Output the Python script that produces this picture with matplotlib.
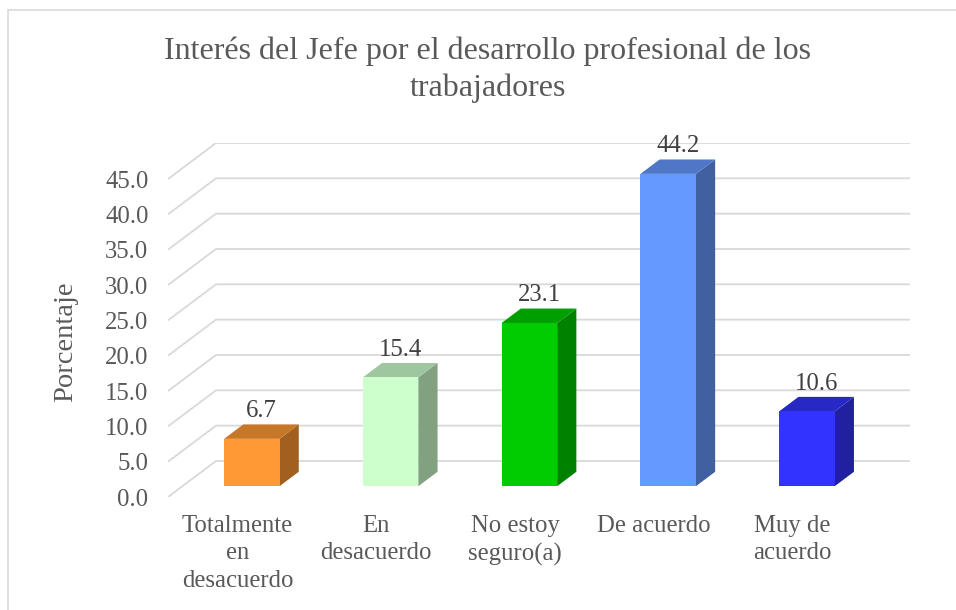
import numpy as np
import matplotlib
matplotlib.use('Agg')
import matplotlib.pyplot as plt
import matplotlib.colors as mcolors
from matplotlib.patches import Polygon, Rectangle

plt.rcParams['font.family'] = ['Liberation Serif', 'DejaVu Serif']

# data
categories = ['Totalmente\nen\ndesacuerdo', 'En\ndesacuerdo', 'No estoy\nseguro(a)',
              'De acuerdo', 'Muy de\nacuerdo']
values = [6.7, 15.4, 23.1, 44.2, 10.6]
colors = ['#FF9933', '#CCFFCC', '#00CC00', '#6699FF', '#3333FF']
yticks = np.arange(0, 50, 5)

# fake 3D: back wall shift (category units, value units), bar size
DX, DY = 0.346, 5.1
W = 0.4
D0, D1 = 0.3, 0.7
TEXT = '#595959'
GRID = '#D9D9D9'
FS = 17.8


def proj(x, y, d):
    return (x + d * DX, y + d * DY)


def shade(c, f):
    r, g, b = mcolors.to_rgb(c)
    return (r * f, g * f, b * f)


fig = plt.figure(figsize=(9.56, 6.1), dpi=100)
ax = fig.add_axes([168 / 956, 113 / 610, 742 / 956, 354 / 610])
ax.set_xlim(-0.5, len(values) - 0.5 + DX)
ax.set_ylim(0, yticks[-1] + DY)
for s in ax.spines.values():
    s.set_visible(False)

# walls gridlines
for v in yticks:
    ax.plot([-0.5, -0.5 + DX, len(values) - 0.5 + DX], [v, v + DY, v + DY],
            color=GRID, lw=1.3, zorder=1, solid_capstyle='butt')

# bars
for i, (v, c) in enumerate(zip(values, colors)):
    xl, xr = i - W / 2, i + W / 2
    front = [proj(xl, 0, D0), proj(xr, 0, D0), proj(xr, v, D0), proj(xl, v, D0)]
    side = [proj(xr, 0, D0), proj(xr, 0, D1), proj(xr, v, D1), proj(xr, v, D0)]
    top = [proj(xl, v, D0), proj(xr, v, D0), proj(xr, v, D1), proj(xl, v, D1)]
    ax.add_patch(Polygon(side, closed=True, fc=shade(c, 0.63), ec='none', zorder=3))
    ax.add_patch(Polygon(top, closed=True, fc=shade(c, 0.78), ec='none', zorder=3))
    ax.add_patch(Polygon(front, closed=True, fc=c, ec='none', zorder=4))
    ax.text(i + 0.5 * DX, v + D1 * DY + 1.0, f'{v:.1f}', ha='center', va='baseline',
            fontsize=FS, color='#404040', zorder=5)

ax.set_yticks(yticks)
ax.set_yticklabels([f'{v:.1f}' for v in yticks])
ax.set_xticks(range(len(categories)))
ax.set_xticklabels(categories, linespacing=1.32)
ax.tick_params(axis='both', length=0, labelsize=FS, labelcolor=TEXT)
ax.tick_params(axis='y', pad=14)
ax.tick_params(axis='x', pad=13)

fig.text(66 / 956, 1 - 342 / 610, 'Porcentaje', rotation=90, ha='center', va='center',
         fontsize=20.5, color=TEXT)
fig.text(488 / 956, 1 - 36 / 610,
         'Interés del Jefe por el desarrollo profesional de los\ntrabajadores',
         ha='center', va='top', fontsize=23, color=TEXT, linespacing=1.35)

# chart border
fig.patches.append(Rectangle((8 / 956, -0.1), 1.5, 1.1 - 10 / 610, transform=fig.transFigure,
                             fill=False, ec=GRID, lw=1.2))

fig.savefig('out.png', dpi=100)
